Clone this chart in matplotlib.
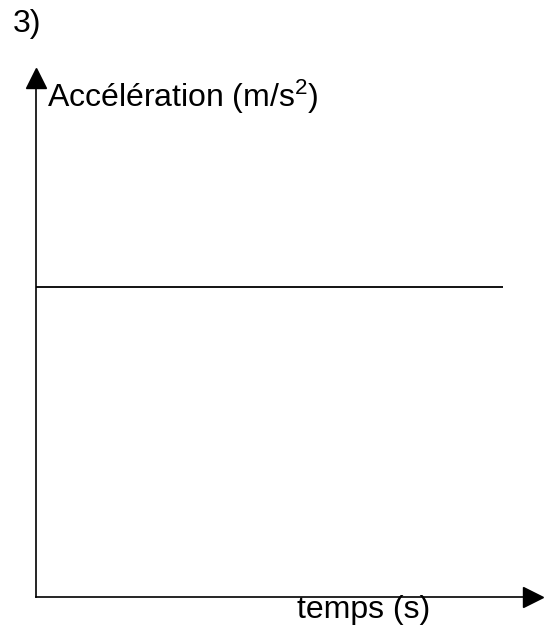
import matplotlib
matplotlib.use("Agg")
import matplotlib.pyplot as plt

# schematic: constant acceleration versus time
temps = [0, 9.2]
acceleration = [5.86, 5.86]
x_label = "temps (s)"
y_label = "Accélération (m/s$^{2}$)"
numero = "3)"

plt.rcParams['font.family'] = ['Liberation Sans', 'DejaVu Sans']
plt.rcParams['mathtext.fontset'] = 'custom'
plt.rcParams['mathtext.rm'] = 'Liberation Sans'
plt.rcParams['mathtext.it'] = 'Liberation Sans'

W, H = 545, 631
fig = plt.figure(figsize=(W / 100, H / 100), dpi=100)
fig.patch.set_facecolor('white')

# axes box from origin (36, 597) to arrow tips (544, 68), in pixels
x0, y0, x1, y1 = 36, 597, 544, 68
ax = fig.add_axes([x0 / W, 1 - y0 / H, (x1 - x0) / W, (y0 - y1) / H])
ax.set_xlim(0, 10)
ax.set_ylim(0, 10)
for s in ['top', 'right']:
    ax.spines[s].set_visible(False)
for s in ['left', 'bottom']:
    ax.spines[s].set_linewidth(1.2)
    ax.spines[s].set_color('black')
ax.spines['left'].set_bounds(0, 9.7)
ax.spines['bottom'].set_bounds(0, 9.7)
ax.set_xticks([])
ax.set_yticks([])
ax.patch.set_alpha(0)

ax.plot(temps, acceleration, color='black', lw=1.3, solid_capstyle='butt')

# arrow heads
ax.plot(0.979, 0, marker='>', color='black', markersize=14.5,
        transform=ax.transAxes, clip_on=False)
ax.plot(0, 0.981, marker='^', color='black', markersize=14.5,
        transform=ax.transAxes, clip_on=False)

fs = 23
fig.text(13 / W, 1 - 32 / H, numero, fontsize=fs, va='baseline', ha='left')
fig.text(47 / W, 1 - 107 / H, y_label, fontsize=fs, va='baseline', ha='left')
fig.text(297 / W, 1 - 618 / H, x_label, fontsize=fs, va='baseline', ha='left')

fig.savefig('out.png', dpi=100, facecolor='white')
